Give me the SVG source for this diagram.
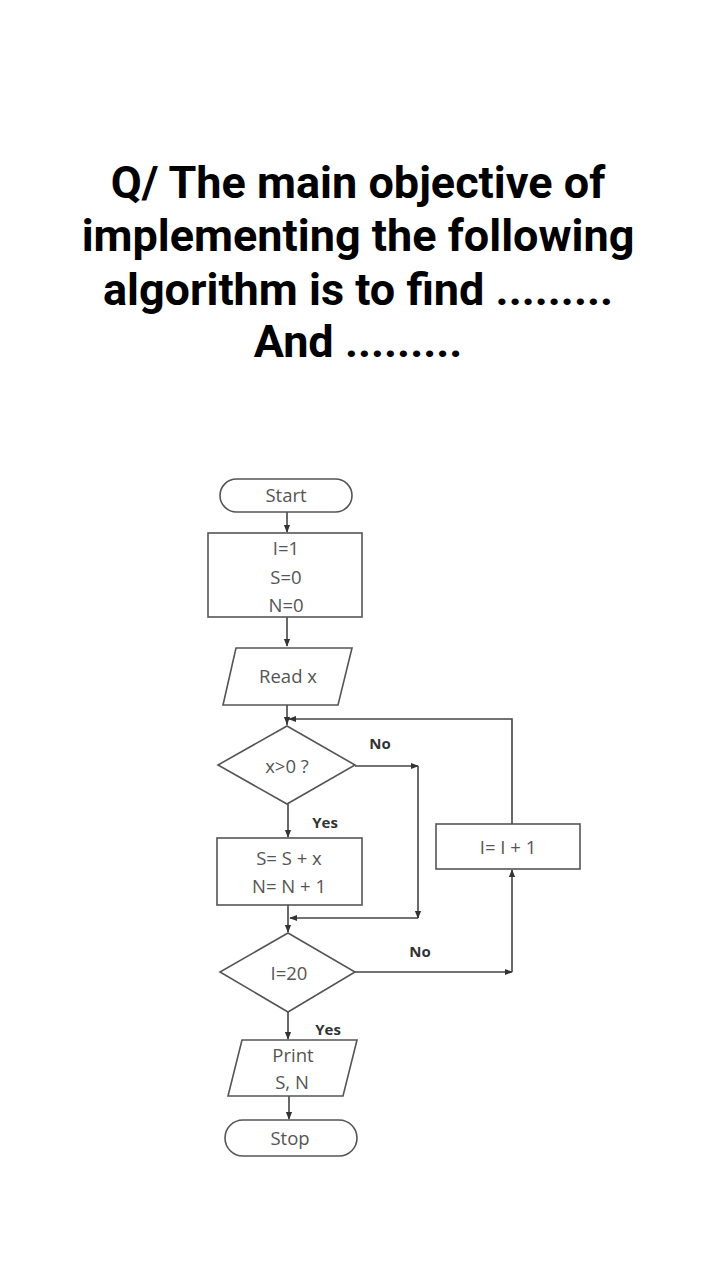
<svg xmlns="http://www.w3.org/2000/svg" width="720" height="1280" viewBox="0 0 720 1280">
<defs>
<marker id="ah" viewBox="0 0 10 10" refX="9" refY="5" markerWidth="5" markerHeight="5" orient="auto-start-reverse"><path d="M0,1 L10,5 L0,9 z" fill="#333"/></marker>
<style>
.t{font-family:Roboto,"Liberation Sans",sans-serif;font-weight:bold;font-size:45px;fill:#000;text-anchor:middle}
.n{fill:#fff;stroke:#555;stroke-width:1.6}
.l{font-family:"Open Sans","Liberation Sans",sans-serif;font-size:18.5px;fill:#555;text-anchor:middle}
.lb{font-family:"Open Sans","Liberation Sans",sans-serif;font-size:15px;font-weight:bold;fill:#333;text-anchor:middle}
.c{fill:none;stroke:#444;stroke-width:1.6}
</style>
</defs>
<rect width="720" height="1280" fill="#fff"/>
<g id="title">
<text class="t" x="358" y="198">Q/ The main objective of</text>
<text class="t" x="358" y="251">implementing the following</text>
<text class="t" x="358" y="305">algorithm is to find .........</text>
<text class="t" x="358" y="357">And .........</text>
</g>
<g id="connectors">
<path class="c" d="M287,512 V532" marker-end="url(#ah)"/>
<path class="c" d="M287,617 V646" marker-end="url(#ah)"/>
<path class="c" d="M287,705 V725"/>
<path class="c" d="M287,719 V724" marker-end="url(#ah)"/>
<path class="c" d="M512,824 V719 H289" marker-end="url(#ah)"/>
<path class="c" d="M355,766 H418" marker-end="url(#ah)"/>
<path class="c" d="M418,766 V918" />
<path class="c" d="M418,912 V918" marker-end="url(#ah)"/>
<path class="c" d="M418,918 H290" marker-end="url(#ah)"/>
<path class="c" d="M288,804 V837" marker-end="url(#ah)"/>
<path class="c" d="M288,905 V932" marker-end="url(#ah)"/>
<path class="c" d="M355,972 H512" marker-end="url(#ah)"/>
<path class="c" d="M512,972 V870" marker-end="url(#ah)"/>
<path class="c" d="M288,1012 V1039" marker-end="url(#ah)"/>
<path class="c" d="M289,1096 V1119" marker-end="url(#ah)"/>
<text class="lb" x="380" y="749">No</text>
<text class="lb" x="325" y="828">Yes</text>
<text class="lb" x="420" y="957">No</text>
<text class="lb" x="328" y="1035">Yes</text>
</g>
<g id="start">
<rect class="n" x="220" y="479" width="132" height="33" rx="16.5"/>
<text class="l" x="286" y="502">Start</text>
</g>
<g id="init">
<rect class="n" x="208" y="533" width="154" height="84"/>
<text class="l" x="286" y="555">I=1</text>
<text class="l" x="286" y="584">S=0</text>
<text class="l" x="286" y="612">N=0</text>
</g>
<g id="read">
<polygon class="n" points="236,648 352,648 338,705 223,705"/>
<text class="l" x="288" y="683">Read x</text>
</g>
<g id="cond1">
<polygon class="n" points="287,726 355,765 287,804 218,765"/>
<text class="l" x="287" y="773">x&gt;0 ?</text>
</g>
<g id="update">
<rect class="n" x="217" y="838" width="145" height="67"/>
<text class="l" x="289" y="865">S= S + x</text>
<text class="l" x="289" y="893">N= N + 1</text>
</g>
<g id="incr">
<rect class="n" x="436" y="824" width="144" height="45"/>
<text class="l" x="508" y="854">I= I + 1</text>
</g>
<g id="cond2">
<polygon class="n" points="288,933 355,972 288,1012 220,972"/>
<text class="l" x="289" y="980">I=20</text>
</g>
<g id="print">
<polygon class="n" points="242,1040 357,1040 343,1096 228,1096"/>
<text class="l" x="293" y="1062">Print</text>
<text class="l" x="292" y="1089">S, N</text>
</g>
<g id="stop">
<rect class="n" x="225" y="1120" width="132" height="36" rx="18"/>
<text class="l" x="290" y="1145">Stop</text>
</g>
</svg>
